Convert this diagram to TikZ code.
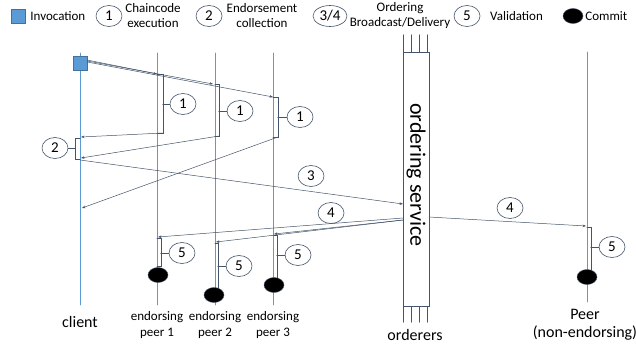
\documentclass[tikz,border=0pt]{standalone}
\usepackage{fontspec}
\setmainfont{Carlito}
\usetikzlibrary{arrows.meta, shapes.geometric, positioning}
\definecolor{lifeblue}{RGB}{91,155,213}
\definecolor{invblue}{RGB}{65,113,156}
\definecolor{msgcol}{RGB}{68,84,106}

\begin{document}
\begin{tikzpicture}[x=1pt, y=-1pt, line cap=round,
    life/.style={draw=lifeblue, line width=0.8pt},
    msg/.style={draw=msgcol, line width=0.5pt, -{Stealth[length=3.5pt,width=2.6pt]}},
    bar/.style={draw=msgcol, line width=1pt},
    tick/.style={draw=msgcol, line width=0.6pt},
    num/.style={ellipse, draw=msgcol, line width=0.6pt, minimum width=26pt, minimum height=21pt, inner sep=0pt, font=\fontsize{15}{15}\selectfont},
    commit/.style={ellipse, fill=black, draw=msgcol, minimum width=20pt, minimum height=15pt, inner sep=0pt},
    legend/.style={font=\fontsize{13}{15}\selectfont, align=center, inner sep=0pt},
    actor/.style={font=\fontsize{16}{18}\selectfont, align=center, inner sep=0pt}]
    \useasboundingbox (0,0) rectangle (636,350);

    % legend
    \node[draw=invblue, fill=lifeblue, minimum size=14pt, inner sep=0pt] (leg-inv) at (18,16) {};
    \node[legend, right=5pt of leg-inv] (leg-invtext) {Invocation};
    \node[num] (leg1) at (109,16) {1};
    \node[legend] (leg1text) at (153,16) {Chaincode\\execution};
    \node[num] (leg2) at (209,16) {2};
    \node[legend] (leg2text) at (262,16) {Endorsement\\collection};
    \node[num, minimum width=34pt] (leg34) at (330,16) {3/4};
    \node[legend] (leg34text) at (400,16) {Ordering\\Broadcast/Delivery};
    \node[num] (leg5) at (467,16) {5};
    \node[legend, anchor=west] (leg5text) at (490,16) {Validation};
    \node[commit] (legc) at (573,16) {};
    \node[legend, right=2pt of legc] (legctext) {Commit};

    % lifelines
    \coordinate (cl-top) at (80,53);   \coordinate (cl-bot) at (80,305);
    \coordinate (ep1-top) at (157,53); \coordinate (ep1-bot) at (157,305);
    \coordinate (ep2-top) at (215,53); \coordinate (ep2-bot) at (215,305);
    \coordinate (ep3-top) at (273,53); \coordinate (ep3-bot) at (273,305);
    \coordinate (pr-top) at (587,52);  \coordinate (pr-bot) at (587,302);
    \draw[life] (cl-top) -- (cl-bot);
    \draw[life] (ep1-top) -- (ep1-bot);
    \draw[life] (ep2-top) -- (ep2-bot);
    \draw[life] (ep3-top) -- (ep3-bot);
    \draw[life] (pr-top) -- (pr-bot);

    % orderers
    \node[draw=msgcol, fill=white, line width=0.6pt, minimum width=26pt, minimum height=254pt, inner sep=0pt] (ord) at (416,179) {};
    \foreach \x in {1,9,17,25} {
        \draw[msgcol, line width=0.6pt] ([xshift=\x pt]ord.north west) -- ++(0,-17);
        \draw[msgcol, line width=0.6pt] ([xshift=\x pt]ord.south west) -- ++(0,16);
    }
    \node[rotate=-90, font=\fontsize{22}{22}\selectfont, inner sep=0pt] (ordtext) at ([yshift=4pt]ord.center) {ordering service};

    % invocation
    \node[draw=invblue, fill=lifeblue, minimum size=14pt, inner sep=0pt] (inv) at (80,63) {};
    \coordinate (e1-in) at (157,74);
    \coordinate (e2-in) at (213,84);
    \coordinate (e3-in) at (273,97);
    \draw[msg] ([yshift=3pt]inv.east) -- (e1-in);
    \draw[msg] ([yshift=2pt]inv.east) -- (e2-in);
    \draw[msg] ([yshift=1pt]inv.east) -- (e3-in);

    % chaincode execution
    \coordinate (e1-a) at (157,75);  \coordinate (e1-b) at (157,133); \coordinate (e1-out) at (163,133);
    \coordinate (e2-a) at (215,85);  \coordinate (e2-b) at (215,136); \coordinate (e2-out) at (219,136);
    \coordinate (e3-a) at (273,98);  \coordinate (e3-b) at (273,137); \coordinate (e3-out) at (278,137);
    \draw[bar] (e1-a) -- ++(6,0) |- (e1-b);
    \draw[bar] (e2-a) -- ++(4,0) |- (e2-b);
    \draw[bar] (e3-a) -- ++(5,0) |- (e3-b);
    \node[num] (s1a) at (183,104) {1};
    \node[num] (s1b) at (240,111) {1};
    \node[num] (s1c) at (300,117) {1};
    \draw[tick] (s1a.west) -- ++(-7,0);
    \draw[tick] (s1b.west) -- ++(-8,0);
    \draw[tick] (s1c.west) -- ++(-9,0);

    % endorsement collection
    \coordinate (cl-r1) at (81,137);
    \coordinate (cl-r2) at (81,158);
    \coordinate (cl-r3) at (82,208);
    \draw[msg] (e1-out) -- (cl-r1);
    \draw[msg] (e2-out) -- (cl-r2);
    \draw[msg] (e3-out) -- (cl-r3);
    \coordinate (cl-a) at (80,138); \coordinate (cl-b) at (80,159);
    \draw[bar] (cl-a) -- ++(-5,0) |- (cl-b);
    \node[num] (s2) at (55,148) {2};
    \draw[tick] (s2.east) -- ++(7,0);

    % broadcast
    \coordinate (cl-out) at (80,160);
    \coordinate (ord-in) at (403,204);
    \draw[msg] (cl-out) -- (ord-in);
    \node[num] (s3) at (311,176) {3};

    % delivery
    \coordinate (ord-o1) at (403,218);
    \coordinate (ord-o2) at (403,220);
    \coordinate (ord-o3) at (429,217);
    \coordinate (e1-d) at (158,237);
    \coordinate (e2-d) at (216,242);
    \coordinate (e3-d) at (274,234);
    \coordinate (pr-d) at (586,226);
    \draw[msg] (ord-o1) -- (e1-d);
    \draw[msg] (ord-o2) -- (e2-d);
    \draw[msg] (ord-o2) -- (e3-d);
    \draw[msg] (ord-o3) -- (pr-d);
    \node[num] (s4a) at (331,213) {4};
    \node[num] (s4b) at (510,208) {4};

    % validation and commit
    \coordinate (v1-a) at (157,238); \coordinate (v1-b) at (157,266);
    \coordinate (v2-a) at (215,243); \coordinate (v2-b) at (215,288);
    \coordinate (v3-a) at (273,235); \coordinate (v3-b) at (273,278);
    \coordinate (vp-a) at (587,227); \coordinate (vp-b) at (587,270);
    \draw[bar] (v1-a) -- ++(4,0) |- (v1-b);
    \draw[bar] (v2-a) -- ++(3,0) |- (v2-b);
    \draw[bar] (v3-a) -- ++(4,0) |- (v3-b);
    \draw[bar] (vp-a) -- ++(4,0) |- (vp-b);
    \node[num] (s5a) at (182,253) {5};
    \node[num] (s5b) at (239,266) {5};
    \node[num] (s5c) at (298,255) {5};
    \node[num] (s5d) at (612,247) {5};
    \draw[tick] (s5a.west) -- ++(-8,0);
    \draw[tick] (s5b.west) -- ++(-8,0);
    \draw[tick] (s5c.west) -- ++(-8,0);
    \draw[tick] (s5d.west) -- ++(-8,0);
    \node[commit] (c1) at (158,275) {};
    \node[commit] (c2) at (214,295) {};
    \node[commit] (c3) at (274,285) {};
    \node[commit] (cp) at (587,277) {};

    % names
    \node[actor] (cl-name) at (80,322) {client};
    \node[legend, font=\fontsize{13}{16}\selectfont] (ep1-name) at (157,325) {endorsing\\peer 1};
    \node[legend, font=\fontsize{13}{16}\selectfont] (ep2-name) at (215,325) {endorsing\\peer 2};
    \node[legend, font=\fontsize{13}{16}\selectfont] (ep3-name) at (273,325) {endorsing\\peer 3};
    \node[actor] (ord-name) at (415,335) {orderers};
    \node[actor] (pr-name) at (585,325) {Peer\\(non-endorsing)};
\end{tikzpicture}
\end{document}
